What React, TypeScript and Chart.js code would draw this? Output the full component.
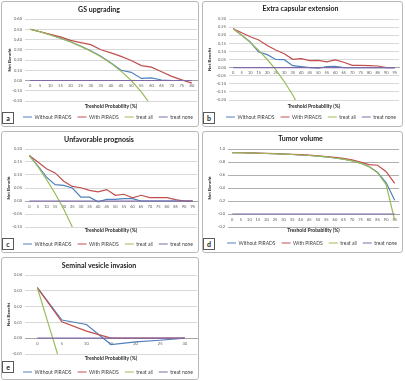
import React, { useEffect, useRef } from 'react';
import { Chart, registerables } from 'chart.js';

Chart.register(...registerables);

// ---------------- data ----------------
const gsThresholds = ['0', '5', '10', '15', '20', '25', '30', '35', '40', '45', '50', '55', '60', '65', '70', '75', '80'];
const gsWithoutPirads = [0.5, 0.476, 0.446, 0.414, 0.378, 0.337, 0.29, 0.236, 0.172, 0.1, 0.08, 0.02, 0.025, 0.005, 0, 0, 0];
const gsWithPirads = [0.5, 0.476, 0.45, 0.425, 0.392, 0.37, 0.35, 0.3, 0.27, 0.235, 0.195, 0.145, 0.13, 0.085, 0.04, 0.006, -0.025];
const gsTreatAll = [0.5, 0.474, 0.444, 0.412, 0.375, 0.333, 0.286, 0.231, 0.167, 0.091, 0.0, -0.111, -0.25, null, null, null, null];
const gsTreatNone = [0, 0, 0, 0, 0, 0, 0, 0, 0, 0, 0, 0, 0, 0, 0, 0, 0];

const thresholds0to95 = ['0', '5', '10', '15', '20', '25', '30', '35', '40', '45', '50', '55', '60', '65', '70', '75', '80', '85', '90', '95'];

const eceWithoutPirads = [0.24, 0.2, 0.158, 0.096, 0.08, 0.05, 0.049, 0.012, 0.006, 0, -0.004, 0.006, 0.008, 0, 0, 0, 0, 0, 0, 0];
const eceWithPirads = [0.24, 0.215, 0.19, 0.17, 0.137, 0.109, 0.086, 0.051, 0.055, 0.043, 0.045, 0.035, 0.047, 0.033, 0.014, 0.014, 0.012, 0.01, 0, 0];
const eceTreatAll = [0.24, 0.2, 0.156, 0.106, 0.05, -0.013, -0.086, -0.169, -0.267, null, null, null, null, null, null, null, null, null, null, null];
const eceTreatNone = [0, 0, 0, 0, 0, 0, 0, 0, 0, 0, 0, 0, 0, 0, 0, 0, 0, 0, 0, 0];

const upWithoutPirads = [0.175, 0.135, 0.092, 0.063, 0.06, 0.05, 0.015, 0.015, -0.003, 0.006, 0.006, 0.009, 0.009, 0, 0, 0, 0, 0, 0, 0];
const upWithPirads = [0.175, 0.15, 0.124, 0.108, 0.076, 0.056, 0.051, 0.041, 0.035, 0.044, 0.022, 0.026, 0.012, 0.022, 0.013, 0.013, 0.013, 0.005, 0, 0];
const upTreatAll = [0.175, 0.132, 0.083, 0.029, -0.031, -0.1, -0.179, null, null, null, null, null, null, null, null, null, null, null, null, null];
const upTreatNone = [0, 0, 0, 0, 0, 0, 0, 0, 0, 0, 0, 0, 0, 0, 0, 0, 0, 0, 0, 0];

const tvWithoutPirads = [0.945, 0.942, 0.939, 0.935, 0.931, 0.927, 0.921, 0.915, 0.908, 0.9, 0.89, 0.878, 0.862, 0.845, 0.82, 0.785, 0.73, 0.64, 0.48, 0.21];
const tvWithPirads = [0.945, 0.942, 0.939, 0.936, 0.932, 0.928, 0.923, 0.918, 0.912, 0.905, 0.896, 0.885, 0.872, 0.855, 0.835, 0.8, 0.76, 0.75, 0.65, 0.47];
const tvTreatAll = [0.945, 0.942, 0.939, 0.935, 0.931, 0.927, 0.921, 0.915, 0.908, 0.9, 0.89, 0.878, 0.862, 0.843, 0.817, 0.78, 0.725, 0.633, 0.45, -0.1];
const tvTreatNone = [0, 0, 0, 0, 0, 0, 0, 0, 0, 0, 0, 0, 0, 0, 0, 0, 0, 0, 0, 0];

const sviThresholds = ['0', '5', '10', '15', '20', '25', '30'];
const sviWithoutPirads = [0.032, 0.0115, 0.0087, -0.004, -0.0023, -0.0013, 0];
const sviWithPirads = [0.032, 0.0104, 0.0045, 0, 0, 0, 0];
const sviTreatAll = [0.032, -0.019, null, null, null, null, null];
const sviTreatNone = [0, 0, 0, 0, 0, 0, 0];

const seriesLabels = ['Without PIRADS', 'With PIRADS', 'treat all', 'treat none'];
const xAxisTitle = 'Treshold Probability (%)';
const yAxisTitle = 'Net Benefit';

// ---------------- styling / layout ----------------
const FONT = 'Lato, "Open Sans", "DejaVu Sans", sans-serif';
const C_WITHOUT = '#4f81bd';
const C_WITH = '#c0504d';
const C_ALL = '#9bbb59';
const C_NONE = '#7f6aa8';
const LEG_FS = 5;
const LEG_PAD = 6;

type PanelData = {
  letter: string; title: string; labels: string[];
  without: (number | null)[]; withP: (number | null)[]; all: (number | null)[]; none: (number | null)[];
  min: number; max: number; step: number; dec: number; grid: string;
};
type PanelLayout = {
  x: number; y: number; w: number; h: number; titleY: number; top: number; bottom: number;
  xTitleY: number; legendY: number; left: number; right: number; legendX: number; yTitleX: number; boxY: number;
};

const panelData: PanelData[] = [
  { letter: 'a', title: 'GS upgrading', labels: gsThresholds, without: gsWithoutPirads, withP: gsWithPirads, all: gsTreatAll, none: gsTreatNone, min: -0.2, max: 0.6, step: 0.1, dec: 2, grid: '#d9d9d9' },
  { letter: 'b', title: 'Extra capsular extension', labels: thresholds0to95, without: eceWithoutPirads, withP: eceWithPirads, all: eceTreatAll, none: eceTreatNone, min: -0.2, max: 0.3, step: 0.05, dec: 2, grid: '#d9d9d9' },
  { letter: 'c', title: 'Unfavorable prognosis', labels: thresholds0to95, without: upWithoutPirads, withP: upWithPirads, all: upTreatAll, none: upTreatNone, min: -0.1, max: 0.2, step: 0.05, dec: 2, grid: '#d9d9d9' },
  { letter: 'd', title: 'Tumor volume', labels: thresholds0to95, without: tvWithoutPirads, withP: tvWithPirads, all: tvTreatAll, none: tvTreatNone, min: -0.2, max: 1.0, step: 0.2, dec: 1, grid: '#b0b0b0' },
  { letter: 'e', title: 'Seminal vesicle invasion', labels: sviThresholds, without: sviWithoutPirads, withP: sviWithPirads, all: sviTreatAll, none: sviTreatNone, min: -0.01, max: 0.04, step: 0.01, dec: 2, grid: '#d9d9d9' },
];

const panelLayouts: PanelLayout[] = [
  { x: 1, y: 1, w: 198, h: 126, titleY: 9, top: 18, bottom: 100, xTitleY: 105, legendY: 116, left: 24, right: 196, legendX: 22, yTitleX: 9, boxY: 111 },
  { x: 202, y: 1, w: 201, h: 126, titleY: 8, top: 18, bottom: 99, xTitleY: 105, legendY: 116, left: 27, right: 197, legendX: 24, yTitleX: 8, boxY: 111 },
  { x: 1, y: 131, w: 198, h: 122, titleY: 9, top: 18, bottom: 96, xTitleY: 99, legendY: 113, left: 24, right: 196, legendX: 22, yTitleX: 8, boxY: 107 },
  { x: 202, y: 131, w: 201, h: 122, titleY: 8, top: 18, bottom: 96, xTitleY: 99, legendY: 112, left: 26, right: 197, legendX: 25, yTitleX: 8, boxY: 107 },
  { x: 1, y: 257, w: 198, h: 123, titleY: 9, top: 18, bottom: 97, xTitleY: 101, legendY: 115, left: 24, right: 196, legendX: 22, yTitleX: 8, boxY: 104 },
];

function buildConfig(d: PanelData, p: PanelLayout): any {
  const titleFS = 7, titleLH = titleFS * 1.2;
  const xtFS = 5, xtLH = xtFS * 1.2;
  const ytFS = 4.5, ytLH = ytFS * 1.2;
  const x2H = p.xTitleY - p.bottom + xtLH / 2 + 1;
  const legendH = LEG_FS + LEG_PAD + 10;
  const padBottom = p.h - p.bottom - x2H - legendH;
  const line = (label: string, data: (number | null)[], color: string, order: number) => ({
    label, data, borderColor: color, backgroundColor: color, borderWidth: 1.2,
    pointRadius: 0, pointHoverRadius: 0, order, tension: 0, fill: false,
  });
  return {
    type: 'line',
    data: {
      labels: d.labels,
      datasets: [
        line(seriesLabels[0], d.without, C_WITHOUT, 4),
        line(seriesLabels[1], d.withP, C_WITH, 3),
        line(seriesLabels[2], d.all, C_ALL, 2),
        line(seriesLabels[3], d.none, C_NONE, 1),
      ],
    },
    options: {
      responsive: false,
      animation: false,
      devicePixelRatio: 1,
      events: [],
      layout: { padding: { top: 0, left: 0, right: p.w - p.right, bottom: padBottom } },
      scales: {
        x: {
          type: 'category',
          position: { y: 0 },
          offset: true,
          grid: { display: false, drawTicks: false },
          border: { display: true, color: '#a6a6a6', width: 1 },
          ticks: { font: { size: 4, family: FONT }, color: '#595959', padding: 3, autoSkip: false, maxRotation: 0, minRotation: 0 },
        },
        x2: {
          type: 'category',
          position: 'bottom',
          offset: true,
          grid: { display: false, drawTicks: false },
          border: { display: false },
          ticks: { display: false },
          title: { display: true, text: xAxisTitle, font: { size: xtFS, weight: 'bold', family: FONT }, color: '#262626', padding: { top: 0, bottom: 1 } },
          afterFit: (s: any) => { s.height = x2H; },
        },
        y: {
          min: d.min,
          max: d.max,
          ticks: {
            stepSize: d.step,
            font: { size: 4, family: FONT },
            color: '#595959',
            padding: 3,
            callback: (v: any) => Number(v).toFixed(d.dec),
          },
          grid: { color: d.grid, drawTicks: false, lineWidth: 1 },
          border: { display: false },
          title: { display: true, text: yAxisTitle, font: { size: ytFS, weight: 'bold', family: FONT }, color: '#262626', padding: { top: p.yTitleX - ytLH / 2, bottom: 0 } },
          afterFit: (s: any) => { s.width = p.left; },
        },
      },
      plugins: {
        title: {
          display: true,
          text: d.title,
          color: '#1a1a1a',
          font: { size: titleFS, weight: 'bold', family: FONT },
          padding: { top: p.titleY - titleLH / 2, bottom: p.top - p.titleY - titleLH / 2 },
        },
        legend: {
          display: true,
          position: 'bottom',
          align: 'start',
          labels: {
            usePointStyle: true,
            pointStyle: 'line',
            pointStyleWidth: 9,
            boxHeight: LEG_FS,
            padding: LEG_PAD,
            color: '#404040',
            font: { size: LEG_FS, family: FONT },
            sort: (a: any, b: any) => a.datasetIndex - b.datasetIndex,
          },
        },
        tooltip: { enabled: false },
      },
    },
    plugins: [
      {
        id: 'placeLegend',
        afterLayout(chart: any) {
          const lg = chart.legend;
          if (!lg) return;
          const h = lg.height;
          lg.top = p.legendY - LEG_PAD - LEG_FS / 2;
          lg.bottom = lg.top + h;
          lg.left = p.legendX - LEG_PAD;
          lg.right = p.w + 100;
        },
      },
    ],
  };
}

function Panel({ d, p }: { d: PanelData; p: PanelLayout }) {
  const ref = useRef<HTMLCanvasElement>(null);
  useEffect(() => {
    if (!ref.current) return;
    const chart = new Chart(ref.current, buildConfig(d, p));
    return () => chart.destroy();
  }, []);
  return (
    <div style={{ position: 'absolute', left: p.x, top: p.y, width: p.w, height: p.h, background: '#fff' }}>
      <canvas ref={ref} width={p.w} height={p.h} style={{ position: 'absolute', left: 0, top: 0, width: p.w, height: p.h }} />
      <div style={{ position: 'absolute', left: 0, top: 0, width: p.w, height: p.h, border: '1px solid #b8b8b8', borderRadius: 3, boxSizing: 'border-box', pointerEvents: 'none' }} />
      <div style={{ position: 'absolute', left: 1, top: p.boxY, width: 12, height: 12, border: '1px solid #595959', boxSizing: 'border-box', background: '#fff', display: 'flex', alignItems: 'center', justifyContent: 'center', font: `bold 7px ${FONT}`, color: '#1a1a1a', lineHeight: '7px' }}>
        {d.letter}
      </div>
    </div>
  );
}

export default function App() {
  return (
    <div style={{ position: 'absolute', left: 0, top: 0, width: 405, height: 381, background: '#fff', fontFamily: FONT }}>
      {panelData.map((d, i) => (
        <Panel key={d.letter} d={d} p={panelLayouts[i]} />
      ))}
    </div>
  );
}
